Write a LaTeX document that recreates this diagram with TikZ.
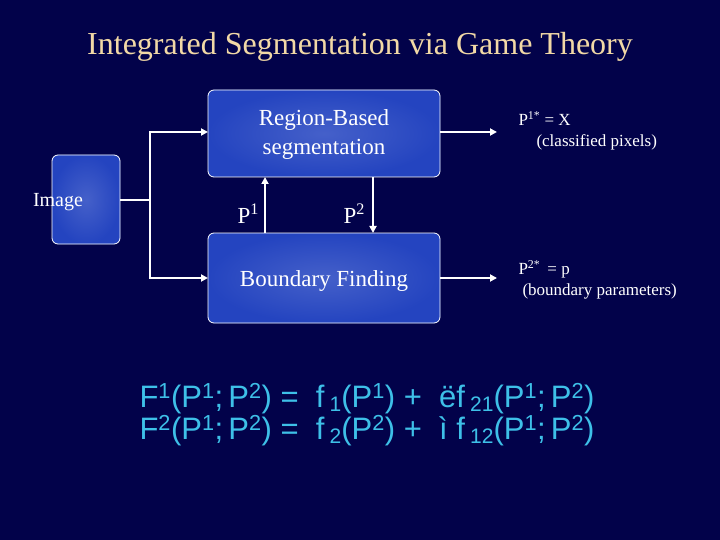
\documentclass[tikz,border=0pt]{standalone}
\usepackage{fontspec}
\setmainfont{Liberation Serif}
\newfontfamily\eqfont{Liberation Sans}
\usetikzlibrary{arrows.meta}
\definecolor{bg}{HTML}{02024A}
\definecolor{boxc}{HTML}{2444C0}
\definecolor{titlec}{HTML}{F2D9A6}
\definecolor{eqc}{HTML}{3EC0E8}
\tikzset{
  blk/.style={draw=white, line width=0.8pt, rounded corners=6pt, inner color=boxc!85!white, outer color=boxc, fill=boxc},
  conn/.style={white, line width=2pt, -{Triangle[length=7pt,width=7pt]}},
  plain/.style={white, line width=2pt},
  lab/.style={text=white, font=\fontsize{23}{29}\selectfont, align=center}
}
\begin{document}
\begin{tikzpicture}[x=1pt,y=-1pt]
\fill[bg] (0,0) rectangle (720,540);
\useasboundingbox (0,0) rectangle (720,540);
\node[text=titlec, font=\fontsize{32}{36}\selectfont] (title) at (360,47) {Integrated Segmentation via Game Theory};
\path[blk] (52,155) rectangle (120,244);
\node[lab, font=\fontsize{20}{24}\selectfont] (img) at (58,202) {Image};
\path[blk] (208,90) rectangle (440,177);
\path[blk] (208,233) rectangle (440,323);
\coordinate (imgR) at (120,200);
\coordinate (rbL) at (208,132); \coordinate (rbR) at (440,132);
\coordinate (bfL) at (208,278); \coordinate (bfR) at (440,278);
\node[lab] (rb) at (324,135) {Region-Based\\segmentation};
\node[lab] (bf) at (324,281) {Boundary Finding};
\coordinate (sp) at (150,200);
\coordinate (st) at (150,132);
\coordinate (sb) at (150,278);
\draw[plain] (imgR) -- (sp);
\draw[plain] (sb) -- (st);
\draw[conn] ([xshift=-1pt]st) -- (rbL);
\draw[conn] ([xshift=-1pt]sb) -- (bfL);
\coordinate (u1) at (265,233); \coordinate (u2) at (265,177);
\coordinate (d1) at (373,177); \coordinate (d2) at (373,233);
\draw[conn] (u1) -- (u2);
\draw[conn] (d1) -- (d2);
\node[lab, anchor=west] (p1) at (234,214) {P\textsuperscript{1}};
\node[lab, anchor=west] (p2) at (340,214) {P\textsuperscript{2}};
\coordinate (o1) at (497,132); \coordinate (o2) at (497,278);
\draw[conn] (rbR) -- (o1);
\draw[conn] (bfR) -- (o2);
\node[text=white, font=\fontsize{17}{21}\selectfont, anchor=north west, align=left] (t1) at (515,108) {P\textsuperscript{1*} = X\\\hspace*{18pt}(classified pixels)};
\node[text=white, font=\fontsize{17}{21}\selectfont, anchor=north west, align=left] (t2) at (515,257) {P\textsuperscript{2*}\, = p\\\hspace*{4pt}(boundary parameters)};
\node[text=eqc, font=\eqfont\fontsize{31}{36}\selectfont, align=left, anchor=north west] (eq) at (136,380) {F\textsuperscript{1}(P\textsuperscript{1};\,P\textsuperscript{2})\ =\ \ f\,\raisebox{-4pt}{\fontsize{21}{21}\selectfont 1}(P\textsuperscript{1})\ +\ \ ëf\,\raisebox{-4pt}{\fontsize{21}{21}\selectfont 21}(P\textsuperscript{1};\,P\textsuperscript{2})\\[-4pt]F\textsuperscript{2}(P\textsuperscript{1};\,P\textsuperscript{2})\ =\ \ f\,\raisebox{-4pt}{\fontsize{21}{21}\selectfont 2}(P\textsuperscript{2})\ +\ \ ì f\,\raisebox{-4pt}{\fontsize{21}{21}\selectfont 12}(P\textsuperscript{1};\,P\textsuperscript{2})};
\end{tikzpicture}
\end{document}
